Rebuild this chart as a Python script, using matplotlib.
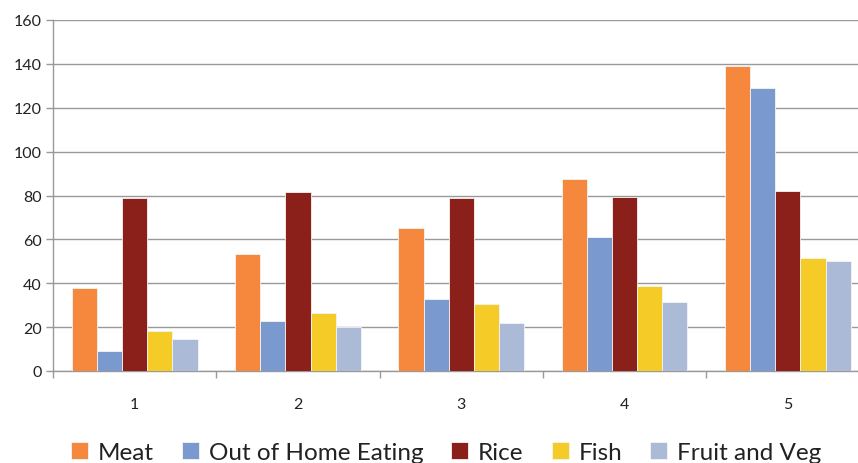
import numpy as np
import matplotlib.pyplot as plt

plt.rcParams['font.family'] = ['Lato', 'DejaVu Sans']

groups = ['1', '2', '3', '4', '5']
meat = [37.7, 53.5, 65, 87.4, 139]
out_of_home = [9.3, 23, 33, 60.9, 128.8]
rice = [79, 81.5, 79, 79.3, 82.2]
fish = [18.4, 26.5, 30.5, 38.6, 51.5]
fruit_veg = [14.6, 20, 22, 31.6, 50]

series = [meat, out_of_home, rice, fish, fruit_veg]
labels = ['Meat', 'Out of Home Eating', 'Rice', 'Fish', 'Fruit and Veg']
colors = ['#F5883C', '#7A9ACF', '#8B1F1A', '#F5CB27', '#ABBAD6']

fig = plt.figure(figsize=(8.58, 4.64), dpi=100)
ax = fig.add_axes([53/858, 92/464, 816.5/858, 351/464])

x = np.arange(1, len(groups) + 1)
w = 0.154
for i, (vals, lab, col) in enumerate(zip(series, labels, colors)):
    ax.bar(x + (i - 2) * w, vals, w, color=col, label=lab,
           edgecolor='#f4f4f4', linewidth=0.6, zorder=3)

ax.set_ylim(0, 160)
ax.set_yticks(range(0, 161, 20))
ax.set_xlim(0.5, 5.5)
ax.set_xticks(x)
ax.set_xticklabels(groups)
ax.set_xticks(np.arange(0.5, 6, 1), minor=True)
ax.tick_params(axis='x', which='major', length=0, pad=19, labelsize=11.5, colors='#222222')
ax.tick_params(axis='x', which='minor', length=5, color='#999999', width=1)
ax.tick_params(axis='y', length=5, color='#999999', width=1, labelsize=11.5, colors='#222222', pad=3)
ax.grid(axis='y', color='#999999', linewidth=1, zorder=0)
for s in ['top', 'right']:
    ax.spines[s].set_visible(False)
for s in ['left', 'bottom']:
    ax.spines[s].set_color('#999999')
    ax.spines[s].set_linewidth(1)

fig.legend(loc='center', bbox_to_anchor=(0.52, 0.022), ncol=5, frameon=False,
           fontsize=17.5, handlelength=0.7, handleheight=0.7, handletextpad=0.4,
           columnspacing=1.15, labelcolor='#222222')

fig.savefig('out.png', dpi=100)
